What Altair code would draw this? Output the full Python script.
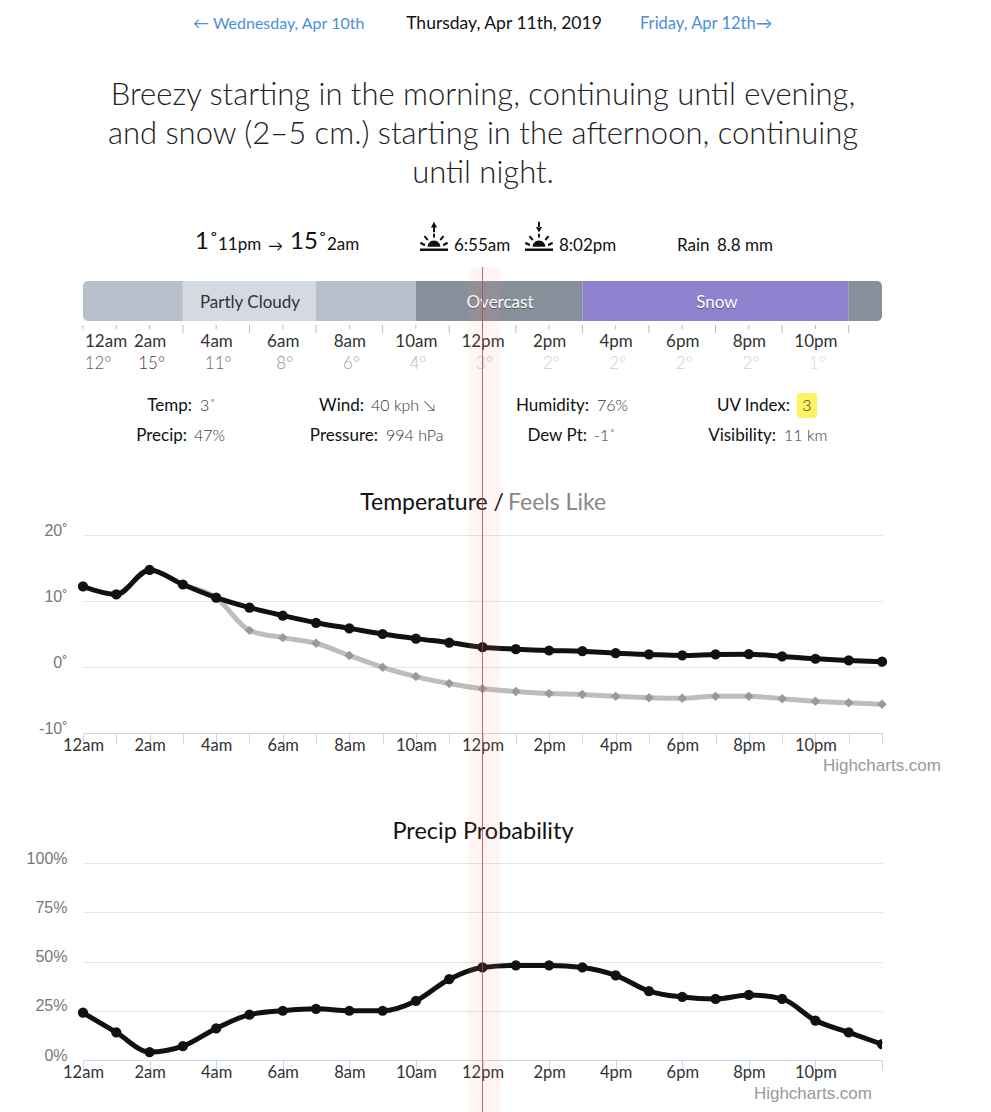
import altair as alt
import pandas as pd

hours = list(range(25))
temperature = [12.2, 11.0, 14.7, 12.5, 10.5, 9.0, 7.8, 6.7, 5.85, 5.0, 4.3, 3.7, 3.0,
               2.7, 2.5, 2.4, 2.1, 1.9, 1.75, 1.9, 1.95, 1.6, 1.25, 1.0, 0.8]
feels_like = [12.2, 11.0, 14.7, 12.5, 10.5, 5.55, 4.45, 3.6, 1.75, -0.05, -1.45, -2.5, -3.3,
              -3.7, -4.0, -4.15, -4.45, -4.65, -4.75, -4.45, -4.45, -4.8, -5.2, -5.4, -5.65]
precip = [24, 14, 4, 7, 16, 23, 25, 26, 25, 25, 30, 41, 47,
          48, 48, 47, 43, 35, 32, 31, 33, 31, 20, 14, 8]
axis_labels = ["12am", "2am", "4am", "6am", "8am", "10am", "12pm", "2pm", "4pm", "6pm", "8pm", "10pm"]
bar_label_hours = [0, 2, 4, 6, 8, 10, 12, 14, 16, 18, 20, 22]
bar_temps = [12, 15, 11, 8, 6, 4, 3, 2, 2, 2, 2, 1]
seg_start = [0, 3, 7, 10, 15, 23]
seg_end = [3, 7, 10, 15, 23, 24]
seg_color = ["#b6bfcb", "#d5dae2", "#b6bfcb", "#878f9a", "#8c82ce", "#878f9a"]
temp_ticks = [-10, 0, 10, 20]
temp_tick_text = ["-10˚", "0˚", "10˚", "20˚"]
precip_ticks = [0, 25, 50, 75, 100]
precip_tick_text = ["0%", "25%", "50%", "75%", "100%"]

W = 799
X0 = 83
FONT = "Lato"
temp_color = alt.Scale(domain=[1, 15], range=["#dcdcdc", "#444"])
hscale = alt.Scale(domain=[0, 24], range=[0, W], nice=False)
series = pd.DataFrame({"h": hours, "t": temperature, "f": feels_like, "p": precip})


def txt(s, px, py, top, size=17, color="#222", align="center", weight=400, font=FONT, opacity=1):
    return alt.Chart(alt.Data(values=[{"s": s}])).mark_text(
        fontSize=size, color=color, align=align, baseline="middle", fontWeight=weight,
        font=font, opacity=opacity,
    ).encode(text="s:N", x=alt.value(px - X0), y=alt.value(py + 1 - top))


def x_axis():
    expr = "datum.value % 2 == 0 && datum.value < 24 ? " + str(axis_labels) + "[datum.value / 2] : ''"
    return alt.Axis(values=hours, labelExpr=expr, title=None, grid=False, tickSize=10, tickColor="#ccd6eb",
                    domainColor="#ccd6eb", labelFont=FONT, labelFontSize=16.5, labelColor="#333",
                    labelPadding=-5.5, labelOverlap=False, labelFlush=False, labelAngle=0)


def y_axis(ticks, names):
    lookup = "{" + ",".join(f"'{v}':'{n}'" for v, n in zip(ticks, names)) + "}"
    return alt.Axis(values=ticks, labelExpr=f"{lookup}[datum.value]", title=None, grid=True, gridColor="#e6e6e6",
                    domain=False, ticks=False, tickSize=0, labelFont="Liberation Sans", labelFontSize=16,
                    labelColor="#777", labelPadding=16, labelOffset=-5, labelOverlap=False, labelFlush=False)


# ---- header panel ----
T0 = 8
seg = pd.DataFrame({"a": seg_start, "b": seg_end, "c": seg_color})
BY1, BY2 = 281 - T0, 321 - T0


def seg_layer(rows, **corners):
    return alt.Chart(seg.iloc[rows]).mark_rect(**corners).encode(
        x=alt.X("a:Q", scale=hscale, axis=None), x2="b:Q",
        y=alt.value(BY1), y2=alt.value(BY2), color=alt.Color("c:N", scale=None))


SUN = ("M-1 .85H1V1.03H-1Z M-.46 .74A.46 .46 0 0 1 .46 .74Z "
       "M-.07 -.2H.07V.08H-.07Z M-.74 .02L-.62 -.08L-.4 .2L-.5 .3Z M.74 .02L.62 -.08L.4 .2L.5 .3Z "
       "M-1 .54L-.95 .38L-.62 .53L-.67 .69Z M1 .54L.95 .38L.62 .53L.67 .69Z ")
RISE = SUN + "M-.07 -.72H.07V-.3H-.07Z M0 -1.05L.22 -.65H-.22Z"
SET = SUN + "M-.07 -1.05H.07V-.65H-.07Z M0 -.28L.22 -.68H-.22Z"


def icon(path, px, py):
    return alt.Chart(alt.Data(values=[{"k": 1}])).mark_point(
        shape=path, filled=True, color="#111", size=784, opacity=1, strokeWidth=0
    ).encode(x=alt.value(px - X0), y=alt.value(py - T0))


big_labels = pd.DataFrame({"h": bar_label_hours, "s": axis_labels, "t": bar_temps})
minor = pd.DataFrame({"h": [0, 1, 2, 4, 6, 8, 10, 12, 14, 16, 18, 20, 22]})
major = pd.DataFrame({"h": [3, 5, 7, 9, 11, 13, 15, 17, 19, 21, 23]})


def tick_layer(frame, py2):
    return alt.Chart(frame).mark_rule(color="#b8b8b8", strokeWidth=1).encode(
        x=alt.X("h:Q", scale=hscale, axis=None), y=alt.value(325 - T0), y2=alt.value(py2 - T0))


BLUE = "#4a90d9"
head_layers = [
    txt("← Wednesday, Apr 10th", 193, 23, T0, size=16, color=BLUE, align="left"),
    txt("Thursday, Apr 11th, 2019", 504, 23, T0, size=17.5, color="#111"),
    txt("Friday, Apr 12th→", 640, 23, T0, size=16.5, color=BLUE, align="left"),
    txt("Breezy starting in the morning, continuing until evening,", 483, 95, T0, size=31, color="#222", weight=300),
    txt("and snow (2–5 cm.) starting in the afternoon, continuing", 483, 134, T0, size=31, color="#222", weight=300),
    txt("until night.", 483, 173, T0, size=31, color="#222", weight=300),
    txt("1˚", 195, 241, T0, size=24, color="#111", align="left"),
    txt("11pm", 218, 244, T0, size=17, color="#111", align="left"),
    txt("→", 268, 245, T0, size=15, color="#111", align="left"),
    txt("15˚", 290, 241, T0, size=24, color="#111", align="left"),
    txt("2am", 327, 244, T0, size=17, color="#111", align="left"),
    icon(RISE, 434, 236.5),
    txt("6:55am", 454, 245, T0, size=17, color="#111", align="left"),
    icon(SET, 539, 236.5),
    txt("8:02pm", 559, 245, T0, size=17, color="#111", align="left"),
    txt("Rain", 677, 245, T0, size=17, color="#111", align="left"),
    txt("8.8 mm", 717, 245, T0, size=17, color="#111", align="left"),
    seg_layer([0], cornerRadiusTopLeft=5, cornerRadiusBottomLeft=5),
    seg_layer([1, 2, 3, 4]),
    seg_layer([5], cornerRadiusTopRight=5, cornerRadiusBottomRight=5),
    txt("Partly Cloudy", 250, 302, T0, size=17, color="#333"),
    txt("Overcast", 500, 303, T0, size=17, color="#333", opacity=0.6),
    txt("Overcast", 500, 302, T0, size=17, color="#fff"),
    txt("Snow", 717, 303, T0, size=17, color="#333", opacity=0.6),
    txt("Snow", 717, 302, T0, size=17, color="#fff"),
    tick_layer(minor, 329),
    tick_layer(major, 333),
    alt.Chart(big_labels.iloc[1:]).mark_text(fontSize=17, font=FONT, color="#333", baseline="middle", dx=0.5).encode(
        x=alt.X("h:Q", scale=hscale, axis=None), y=alt.value(342 - T0), text="s:N"),
    txt("12am", 85, 341, T0, size=17, color="#333", align="left"),
    alt.Chart(big_labels.iloc[1:]).transform_calculate(lab="datum.t + '°'").mark_text(
        fontSize=17, font=FONT, fontWeight=300, baseline="middle", dx=2
    ).encode(
        x=alt.X("h:Q", scale=hscale, axis=None), y=alt.value(364 - T0), text="lab:N",
        color=alt.Color("t:Q", scale=temp_color, legend=None)),
    alt.Chart(big_labels.iloc[:1]).transform_calculate(lab="datum.t + '°'").mark_text(
        fontSize=17, font=FONT, fontWeight=300, baseline="middle", dx=15
    ).encode(
        x=alt.X("h:Q", scale=hscale, axis=None), y=alt.value(364 - T0), text="lab:N",
        color=alt.Color("t:Q", scale=temp_color, legend=None)),
]

stats = [
    ("Temp:", 192, "3˚", 200, 405), ("Wind:", 364, "40 kph ↘", 371, 405),
    ("Humidity:", 589, "76%", 597, 405), ("UV Index:", 790, None, None, 405),
    ("Precip:", 187, "47%", 194, 435), ("Pressure:", 378, "994 hPa", 386, 435),
    ("Dew Pt:", 587, "-1˚", 594, 435), ("Visibility:", 776, "11 km", 784, 435),
]
for label, lx, value, vx, row in stats:
    head_layers.append(txt(label, lx, row, T0, size=17, color="#111", align="right"))
    if value:
        head_layers.append(txt(value, vx, row, T0, size=16, color="#333", align="left", weight=300))
head_layers.append(
    alt.Chart(alt.Data(values=[{"k": 1}])).mark_rect(color="#fbf35f", cornerRadius=3).encode(
        x=alt.value(797 - X0), x2=alt.value(817 - X0), y=alt.value(393 - T0), y2=alt.value(418 - T0)))
head_layers.append(txt("3", 807, 405, T0, size=16, color="#333", weight=300))
head_layers.append(txt("Temperature /", 504, 502, T0, size=23, color="#111", align="right"))
head_layers.append(txt("Feels Like", 508, 502, T0, size=23, color="#888", align="left"))
header = alt.layer(*head_layers).properties(width=W, height=535 - T0)

# ---- temperature panel ----
T1 = 535
tx = alt.X("h:Q", scale=hscale, axis=x_axis())
ty = alt.Scale(domain=[-10, 20], nice=False)
temp_base = alt.Chart(series)
temp_chart = alt.layer(
    temp_base.mark_line(color="#bdbdbd", strokeWidth=5, interpolate="monotone").encode(
        x=tx, y=alt.Y("f:Q", scale=ty, axis=y_axis(temp_ticks, temp_tick_text))),
    temp_base.mark_point(shape="diamond", filled=True, color="#999", size=90, opacity=1).encode(
        x=tx, y=alt.Y("f:Q", scale=ty)),
    temp_base.mark_line(color="#111", strokeWidth=5, interpolate="monotone").encode(
        x=tx, y=alt.Y("t:Q", scale=ty)),
    temp_base.mark_circle(color="#111", size=105, opacity=1).encode(x=tx, y=alt.Y("t:Q", scale=ty)),
    txt("Highcharts.com", 941, 765, T1, size=17, color="#999", align="right", font="Liberation Sans"),
).properties(width=W, height=733 - T1)

# ---- gap panel with the second title ----
T2 = 733
gap = alt.layer(
    txt("Precip Probability", 483, 831, T2, size=23.5, color="#111"),
).properties(width=W, height=863 - T2)

# ---- precipitation panel ----
T3 = 863
py = alt.Scale(domain=[0, 100], nice=False)
precip_base = alt.Chart(series)
band = alt.Chart(alt.Data(values=[{"a": 11.58, "b": 12.53}])).mark_rect(
    color="#ff8f7f", opacity=0.09, cornerRadiusTopLeft=8, cornerRadiusTopRight=8
).encode(x=alt.X("a:Q", scale=hscale), x2="b:Q", y=alt.value(267 - T3), y2=alt.value(1112 - T3))
now = alt.Chart(alt.Data(values=[{"a": 12}])).mark_rule(
    color="#c24040", strokeWidth=1, opacity=0.8
).encode(x=alt.X("a:Q", scale=hscale), y=alt.value(267 - T3), y2=alt.value(1112 - T3))
precip_chart = alt.layer(
    precip_base.mark_line(color="#111", strokeWidth=5, interpolate="monotone").encode(
        x=tx, y=alt.Y("p:Q", scale=py, axis=y_axis(precip_ticks, precip_tick_text))),
    alt.Chart(series.iloc[:-1]).mark_circle(color="#111", size=105, opacity=1).encode(
        x=tx, y=alt.Y("p:Q", scale=py)),
    alt.Chart(series.iloc[-1:]).mark_circle(color="#111", size=105, opacity=1, clip=True).encode(
        x=tx, y=alt.Y("p:Q", scale=py)),
    txt("Highcharts.com", 872, 1093, T3, size=17, color="#999", align="right", font="Liberation Sans"),
    band,
    now,
).properties(width=W, height=1060 - T3)

chart = alt.vconcat(
    header, temp_chart, gap, precip_chart, spacing=0, bounds="flush",
    padding={"left": 18, "top": 0, "right": 0, "bottom": 0},
).configure_view(stroke=None)

chart.save("out.html", embed_options={"renderer": "svg", "actions": False})
